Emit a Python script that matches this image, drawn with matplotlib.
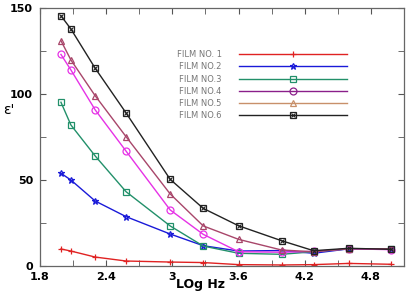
import matplotlib
matplotlib.use("Agg")
import matplotlib.pyplot as plt
from matplotlib.lines import Line2D
from matplotlib.legend_handler import HandlerTuple
from matplotlib.ticker import MultipleLocator, FixedLocator, FixedFormatter

log_hz = [1.99, 2.08, 2.30, 2.58, 2.98, 3.28, 3.60, 3.99, 4.28, 4.60, 4.98]
film1 = [9.9, 8.7, 5.2, 2.9, 2.3, 2.0, 0.8, 0.6, 0.8, 1.5, 1.0]
film2 = [53.9, 50.0, 37.8, 28.7, 18.6, 11.8, 8.7, 9.0, 7.4, 10.0, 10.0]
film3 = [95.2, 82.0, 64.0, 43.2, 23.3, 11.6, 7.4, 6.8, 8.3, 10.0, 10.0]
film4 = [123.0, 114.0, 90.8, 66.8, 32.6, 18.4, 8.3, 8.0, 8.5, 10.0, 9.5]
film5 = [131.0, 119.8, 99.0, 75.2, 41.9, 23.3, 15.5, 9.3, 8.3, 10.0, 10.0]
film6 = [145.5, 137.8, 115.0, 89.0, 50.4, 33.5, 23.4, 14.7, 8.9, 10.3, 9.7]

labels = ["FILM NO. 1", "FILM NO.2", "FILM NO.3", "FILM NO.4", "FILM NO.5", "FILM NO.6"]
xticks = [1.8, 2.4, 3.0, 3.6, 4.2, 4.8]
xticklabels = ["1.8", "2.4", "3", "3.6", "4.2", "4.8"]
yticks = [0, 50, 100, 150]

series = [film1, film2, film3, film4, film5, film6]
plot_colors = ["#e02222", "#1a1ad8", "#22906a", "#e632e6", "#a8466a", "#222222"]
legend_colors = ["#e02222", "#1a1ad8", "#22906a", "#8a1f8a", "#c8906a", "#222222"]
markers = ["+", "*", "s", "o", "^", "s"]

fig = plt.figure(figsize=(4.11, 2.92), dpi=100)
ax = fig.add_axes([40/411, 1 - 266/292, 364/411, 258/292])

for ys, c, m in zip(series, plot_colors, markers):
    ax.plot(log_hz, ys, color=c, lw=1.0, marker=m, ms=5, mfc="none", mec=c, mew=0.9)
# black series: square with cross
ax.plot(log_hz, film6, ls="none", marker="x", ms=3.5, mec=plot_colors[5], mew=0.8)

ax.set_xlim(1.8, 5.1)
ax.set_ylim(0, 150)
ax.xaxis.set_major_locator(FixedLocator(xticks))
ax.xaxis.set_major_formatter(FixedFormatter(xticklabels))
ax.xaxis.set_minor_locator(MultipleLocator(0.3))
ax.yaxis.set_major_locator(FixedLocator(yticks))
ax.yaxis.set_minor_locator(MultipleLocator(25))
ax.tick_params(which="both", direction="in", top=True, right=True, color="#555555")
ax.tick_params(which="major", length=4, labelsize=8, pad=5)
ax.tick_params(which="minor", length=4)
ax.tick_params(axis="x", which="major", pad=4)
for lab in ax.get_xticklabels() + ax.get_yticklabels():
    lab.set_fontweight("bold")
for s in ax.spines.values():
    s.set_color("#666666")
    s.set_linewidth(0.9)

ax.set_xlabel("LOg Hz", fontsize=9, fontweight="bold")
ax.xaxis.set_label_coords(0.44, -0.045)
ax.set_ylabel("ε'", fontsize=10, rotation=0)
ax.yaxis.set_label_coords(-0.085, 0.577)

handles = []
for i, (c, m) in enumerate(zip(legend_colors, markers)):
    h = Line2D([], [], color=c, lw=1.0, marker=m, ms=5, mfc="none", mec=c, mew=0.9)
    if i == 5:
        h = (h, Line2D([], [], ls="none", marker="x", ms=3.5, mec=c, mew=0.8))
    handles.append(h)

leg = ax.legend(handles, labels, loc="upper right", bbox_to_anchor=((351-40)/364, (266-46)/258),
                frameon=False, markerfirst=False, numpoints=1, handlelength=13.0,
                handletextpad=2.0, labelspacing=0.38, borderpad=0, fontsize=6,
                handler_map={tuple: HandlerTuple(ndivide=1)})
for t in leg.get_texts():
    t.set_color("#777777")

fig.savefig("out.png", dpi=100)
